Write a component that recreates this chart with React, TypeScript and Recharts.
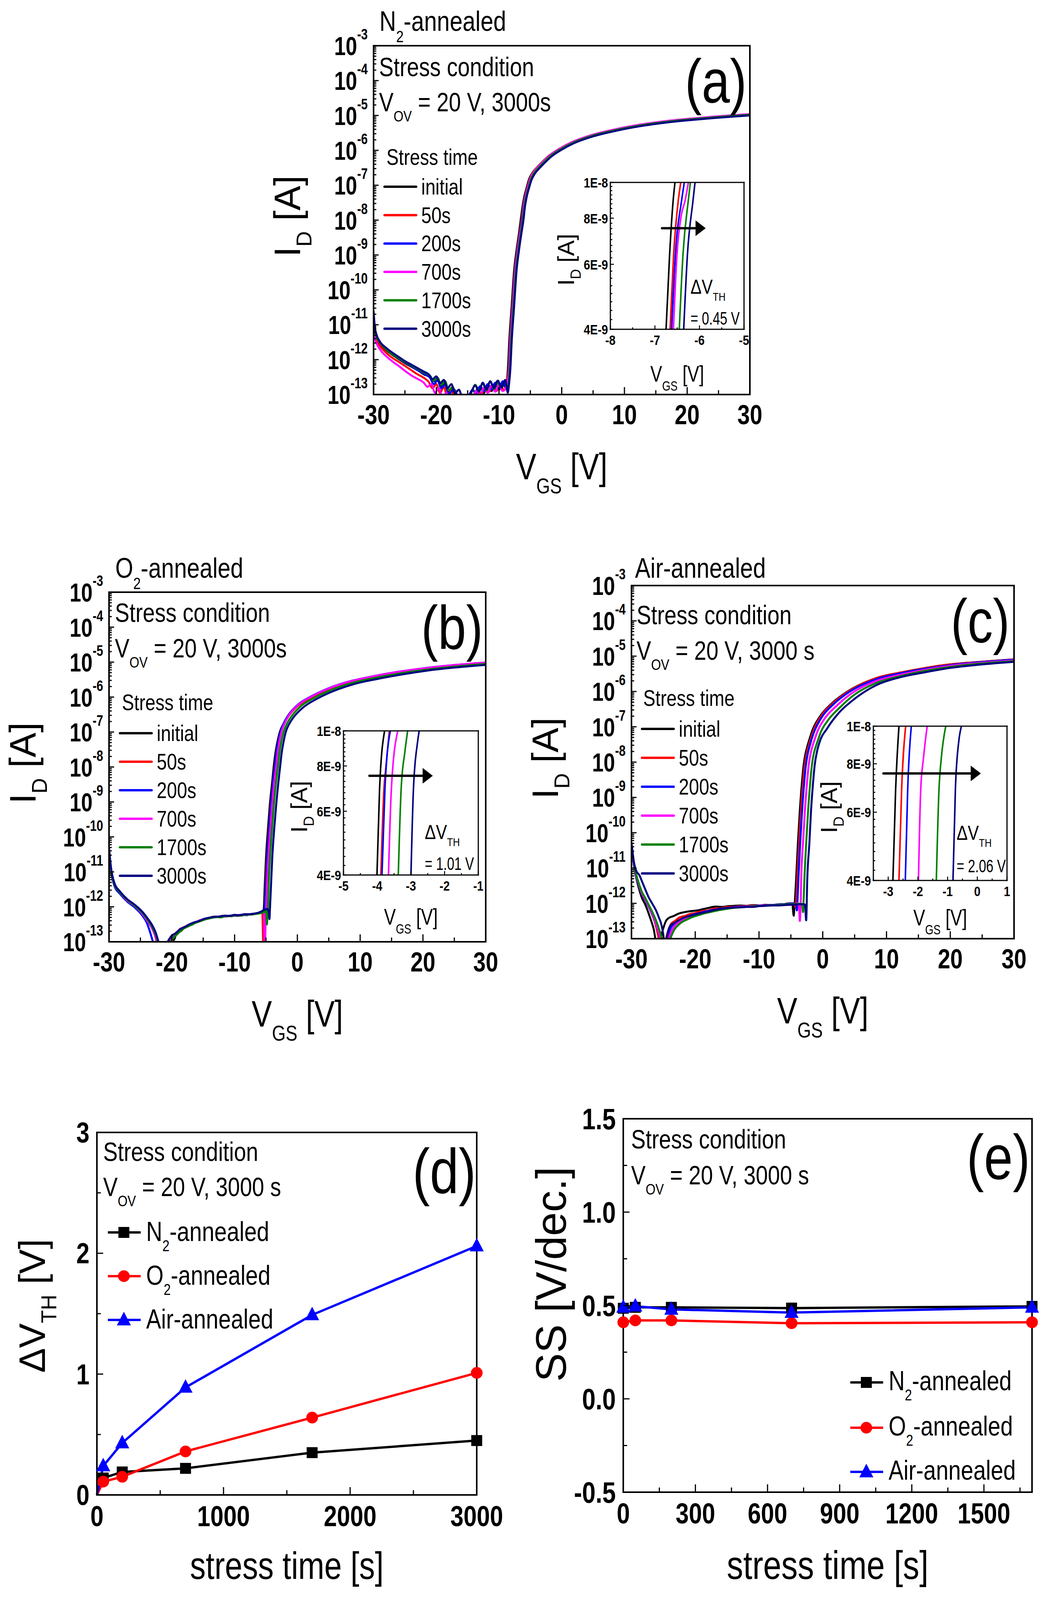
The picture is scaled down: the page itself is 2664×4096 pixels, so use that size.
import React from "react";
import { LineChart, Line, XAxis, YAxis, ReferenceLine } from "recharts";

const W = 2664;
const H = 4096;
const FONT = "'Liberation Sans', Arial, sans-serif";
const NARROW = 0.82;

type Pt = [number, number];
type Box = { l: number; t: number; r: number; b: number };

const COLORS = ["#000000", "#FF0000", "#0000FF", "#FF00FF", "#008000", "#000080"];
const STRESS_LABELS = ["initial", "50s", "200s", "700s", "1700s", "3000s"];

// transfer curves, [V_GS (V), log10 I_D (A)]
const A_INITIAL: Pt[] = [[-30,-11.1],[-29.6,-11.35],[-29,-11.52],[-28,-11.72],[-27,-11.86],[-26,-11.98],[-25,-12.1],[-24,-12.2],[-23,-12.3],[-22,-12.42],[-21,-12.5],[-20.3,-12.62],[-19.8,-12.55],[-19.2,-12.75],[-18.6,-12.66],[-18,-12.92],[-17.4,-12.82],[-16.8,-13.1],[-16,-13.15],[-15,-13.2],[-14.2,-13.05],[-13.6,-12.88],[-13,-12.78],[-12.4,-12.95],[-11.8,-12.72],[-11.2,-12.9],[-10.6,-12.68],[-10,-12.86],[-9.4,-12.64],[-8.9,-12.82],[-8.6,-12.3],[-8.35,-11.4],[-8,-10.5],[-7.6,-9.45],[-7.2,-8.85],[-6.8,-8.35],[-6.55,-8.0],[-6.25,-7.6],[-6.0,-7.35],[-5.6,-7.07],[-5.2,-6.82],[-4.8,-6.68],[-4.0,-6.5],[-3.25,-6.36],[-2,-6.15],[-0.5,-5.97],[1.5,-5.78],[4.6,-5.58],[8.5,-5.41],[12.4,-5.28],[16.4,-5.18],[20.3,-5.11],[24.2,-5.05],[30,-4.98]];
const A_50S: Pt[] = [[-30,-11.15],[-29.6,-11.42],[-29,-11.6],[-28,-11.8],[-27,-11.95],[-26,-12.06],[-25,-12.18],[-24,-12.3],[-23,-12.42],[-22,-12.52],[-21.2,-12.64],[-20.6,-12.82],[-20,-12.7],[-19.4,-12.95],[-18.8,-12.78],[-18.2,-13.1],[-17.6,-12.88],[-17,-13.15],[-16,-13.25],[-15,-13.3],[-14,-13.1],[-13.4,-12.86],[-12.8,-12.98],[-12.2,-12.78],[-11.6,-12.92],[-11,-12.72],[-10.4,-12.9],[-9.8,-12.7],[-9.2,-12.88],[-8.8,-12.72],[-8.5,-12.3],[-8.25,-11.4],[-7.9,-10.5],[-7.5,-9.45],[-7.1,-8.85],[-6.7,-8.35],[-6.42,-8.0],[-6.15,-7.6],[-5.9,-7.35],[-5.5,-7.07],[-5.1,-6.82],[-4.7,-6.67],[-3.9,-6.49],[-3.15,-6.35],[-1.9,-6.14],[-0.4,-5.96],[1.6,-5.77],[4.7,-5.57],[8.6,-5.4],[12.5,-5.27],[16.5,-5.17],[20.4,-5.1],[24.3,-5.04],[30,-4.97]];
const A_200S: Pt[] = [[-30,-11.0],[-29.6,-11.3],[-29,-11.5],[-28,-11.7],[-27,-11.84],[-26,-11.96],[-25,-12.08],[-24,-12.18],[-23,-12.3],[-22,-12.4],[-21,-12.52],[-20.4,-12.7],[-19.8,-12.6],[-19.2,-12.82],[-18.6,-12.72],[-18,-12.98],[-17.2,-12.85],[-16.4,-13.12],[-15.6,-13.2],[-14.8,-13.02],[-14.2,-12.86],[-13.6,-13.0],[-13,-12.76],[-12.4,-12.9],[-11.8,-12.7],[-11.2,-12.86],[-10.6,-12.66],[-10,-12.84],[-9.4,-12.62],[-8.8,-12.8],[-8.45,-12.3],[-8.2,-11.4],[-7.85,-10.5],[-7.45,-9.45],[-7.05,-8.85],[-6.65,-8.35],[-6.34,-8.0],[-6.1,-7.6],[-5.85,-7.35],[-5.45,-7.07],[-5.05,-6.82],[-4.65,-6.68],[-3.85,-6.5],[-3.1,-6.36],[-1.85,-6.15],[-0.35,-5.97],[1.65,-5.78],[4.75,-5.58],[8.65,-5.41],[12.55,-5.28],[16.55,-5.18],[20.45,-5.11],[24.35,-5.05],[30,-4.98]];
const A_700S: Pt[] = [[-30,-11.25],[-29.6,-11.5],[-29,-11.7],[-28,-11.9],[-27,-12.05],[-26,-12.18],[-25,-12.32],[-24,-12.45],[-23,-12.55],[-22,-12.66],[-21.4,-12.78],[-20.8,-12.7],[-20.2,-12.95],[-19.6,-12.82],[-19,-13.1],[-18.4,-12.95],[-17.8,-13.2],[-17,-13.3],[-16,-13.35],[-15,-13.3],[-14.2,-13.1],[-13.6,-12.9],[-13,-13.02],[-12.4,-12.8],[-11.8,-12.95],[-11.2,-12.74],[-10.6,-12.92],[-10,-12.72],[-9.4,-12.9],[-8.8,-12.74],[-8.4,-12.3],[-8.15,-11.4],[-7.8,-10.5],[-7.4,-9.45],[-7.0,-8.85],[-6.6,-8.35],[-6.25,-8.0],[-6.05,-7.6],[-5.8,-7.35],[-5.4,-7.05],[-5.0,-6.8],[-4.6,-6.66],[-3.8,-6.48],[-3.05,-6.34],[-1.8,-6.13],[-0.3,-5.95],[1.7,-5.76],[4.8,-5.56],[8.7,-5.39],[12.6,-5.26],[16.6,-5.16],[20.5,-5.09],[24.4,-5.03],[30,-4.96]];
const A_1700S: Pt[] = [[-30,-11.05],[-29.6,-11.32],[-29,-11.5],[-28,-11.7],[-27,-11.84],[-26,-11.95],[-25,-12.06],[-24,-12.16],[-23,-12.26],[-22,-12.36],[-21,-12.46],[-20.4,-12.6],[-19.8,-12.52],[-19.2,-12.72],[-18.6,-12.62],[-18,-12.88],[-17.4,-12.78],[-16.8,-13.05],[-16,-13.12],[-15.2,-13.15],[-14.4,-12.95],[-13.8,-12.72],[-13.2,-12.9],[-12.6,-12.68],[-12,-12.88],[-11.4,-12.62],[-10.8,-12.84],[-10.2,-12.66],[-9.6,-12.8],[-9,-12.6],[-8.6,-12.85],[-8.3,-12.3],[-8.05,-11.4],[-7.7,-10.5],[-7.3,-9.45],[-6.9,-8.85],[-6.5,-8.35],[-6.2,-8.0],[-5.95,-7.6],[-5.7,-7.35],[-5.3,-7.07],[-4.9,-6.82],[-4.5,-6.68],[-3.7,-6.5],[-2.95,-6.36],[-1.7,-6.15],[-0.2,-5.97],[1.8,-5.78],[4.9,-5.58],[8.8,-5.41],[12.7,-5.28],[16.7,-5.18],[20.6,-5.11],[24.5,-5.05],[30,-4.98]];
const A_3000S: Pt[] = [[-30,-10.6],[-29.8,-11.05],[-29.5,-11.3],[-29,-11.48],[-28,-11.66],[-27,-11.8],[-26,-11.92],[-25,-12.04],[-24,-12.14],[-23,-12.24],[-22,-12.34],[-21.2,-12.42],[-20.6,-12.56],[-20,-12.48],[-19.4,-12.68],[-18.8,-12.58],[-18.2,-12.82],[-17.6,-12.7],[-17,-12.96],[-16.4,-12.86],[-15.8,-13.1],[-15,-13.12],[-14.4,-12.92],[-13.8,-12.74],[-13.2,-12.92],[-12.6,-12.66],[-12,-12.86],[-11.4,-12.62],[-10.8,-12.82],[-10.2,-12.6],[-9.6,-12.8],[-9,-12.58],[-8.6,-12.95],[-8.4,-12.7],[-8.2,-12.3],[-7.95,-11.4],[-7.6,-10.5],[-7.2,-9.45],[-6.8,-8.85],[-6.4,-8.35],[-6.1,-8.0],[-5.85,-7.6],[-5.6,-7.35],[-5.2,-7.07],[-4.8,-6.84],[-4.4,-6.7],[-3.6,-6.52],[-2.85,-6.38],[-1.6,-6.17],[-0.1,-5.99],[1.9,-5.8],[5.0,-5.6],[8.9,-5.43],[12.8,-5.3],[16.8,-5.2],[20.7,-5.13],[24.6,-5.07],[30,-5.0]];

const B_INITIAL: Pt[] = [[-30,-10.38],[-29.7,-10.9],[-29.1,-11.36],[-28.3,-11.56],[-27.1,-11.79],[-25.9,-11.95],[-24.7,-12.15],[-23.9,-12.34],[-23.3,-12.52],[-22.9,-12.68],[-22.4,-12.95],[-22,-13.2],[-21.3,-13.3],[-20.7,-13.1],[-20.2,-12.88],[-19.7,-12.95],[-19.2,-12.74],[-18.6,-12.7],[-18,-12.6],[-17.4,-12.56],[-16.8,-12.48],[-16,-12.44],[-15.2,-12.38],[-14.4,-12.33],[-13.6,-12.3],[-12.8,-12.29],[-12,-12.26],[-11.2,-12.27],[-10.4,-12.25],[-9.6,-12.26],[-8.8,-12.23],[-8,-12.22],[-7.2,-12.21],[-6.4,-12.19],[-5.8,-12.17],[-5.5,-12.12],[-5.35,-12.05],[-5.2,-11.4],[-5.0,-10.6],[-4.7,-9.8],[-4.4,-9.1],[-4.0,-8.4],[-3.78,-8.0],[-3.5,-7.6],[-3.2,-7.3],[-2.8,-7.0],[-2.2,-6.76],[-1.6,-6.57],[0,-6.25],[2,-6.02],[3.9,-5.85],[7.9,-5.59],[11.9,-5.43],[15.9,-5.3],[19.9,-5.2],[23.9,-5.12],[30,-5.03]];
const B_50S: Pt[] = [[-30,-10.45],[-29.7,-10.95],[-29.1,-11.4],[-28.3,-11.6],[-27.1,-11.82],[-25.9,-11.98],[-24.7,-12.18],[-23.9,-12.38],[-23.3,-12.56],[-22.8,-12.75],[-22.3,-13.05],[-21.6,-13.25],[-21,-13.15],[-20.4,-12.92],[-19.8,-12.82],[-19.2,-12.72],[-18.5,-12.62],[-17.8,-12.56],[-17,-12.52],[-16.2,-12.45],[-15.4,-12.38],[-14.6,-12.34],[-13.8,-12.3],[-13,-12.28],[-12.2,-12.3],[-11.4,-12.26],[-10.6,-12.27],[-9.8,-12.24],[-9,-12.25],[-8.2,-12.22],[-7.4,-12.22],[-6.6,-12.2],[-5.9,-12.16],[-5.6,-12.12],[-5.4,-13.3],[-5.25,-12.3],[-5.15,-11.9],[-5.05,-11.3],[-4.85,-10.6],[-4.55,-9.8],[-4.25,-9.1],[-3.88,-8.4],[-3.64,-8.0],[-3.37,-7.6],[-3.08,-7.3],[-2.68,-7.0],[-2.1,-6.76],[-1.5,-6.57],[0.1,-6.25],[2.1,-6.02],[4.0,-5.85],[8.0,-5.59],[12,-5.43],[16,-5.3],[20,-5.2],[24,-5.12],[30,-5.03]];
const B_200S: Pt[] = [[-30,-10.4],[-29.7,-10.95],[-29.1,-11.42],[-28.3,-11.62],[-27.1,-11.85],[-25.9,-12.02],[-24.7,-12.25],[-24,-12.45],[-23.5,-12.7],[-23,-13.0],[-22.4,-13.3],[-21.6,-13.35],[-21,-13.2],[-20.4,-12.95],[-19.8,-12.85],[-19.2,-12.76],[-18.5,-12.64],[-17.8,-12.58],[-17,-12.5],[-16.2,-12.44],[-15.4,-12.4],[-14.6,-12.35],[-13.8,-12.31],[-13,-12.3],[-12.2,-12.27],[-11.4,-12.28],[-10.6,-12.25],[-9.8,-12.26],[-9,-12.23],[-8.2,-12.24],[-7.4,-12.21],[-6.6,-12.2],[-5.9,-12.17],[-5.4,-12.12],[-5.2,-12.0],[-5.02,-11.4],[-4.82,-10.6],[-4.52,-9.8],[-4.22,-9.1],[-3.86,-8.4],[-3.61,-8.0],[-3.36,-7.6],[-3.08,-7.3],[-2.7,-7.0],[-2.14,-6.74],[-1.56,-6.55],[0,-6.23],[2,-6.0],[3.9,-5.83],[7.9,-5.57],[11.9,-5.41],[15.9,-5.28],[19.9,-5.18],[23.9,-5.1],[30,-5.01]];
const B_700S: Pt[] = [[-30,-10.42],[-29.7,-10.92],[-29.1,-11.38],[-28.3,-11.58],[-27.1,-11.82],[-25.9,-11.98],[-24.7,-12.2],[-23.9,-12.4],[-23.2,-12.6],[-22.6,-12.85],[-22,-13.15],[-21.2,-13.3],[-20.5,-13.05],[-19.9,-12.82],[-19.3,-12.78],[-18.6,-12.62],[-17.9,-12.6],[-17.1,-12.5],[-16.3,-12.46],[-15.5,-12.38],[-14.7,-12.36],[-13.9,-12.31],[-13.1,-12.3],[-12.3,-12.27],[-11.5,-12.28],[-10.7,-12.25],[-9.9,-12.26],[-9.1,-12.23],[-8.3,-12.23],[-7.5,-12.21],[-6.7,-12.2],[-6,-12.17],[-5.6,-12.14],[-5.35,-12.1],[-5.2,-13.4],[-5.05,-12.4],[-4.95,-11.9],[-4.83,-11.3],[-4.63,-10.6],[-4.33,-9.8],[-4.03,-9.1],[-3.67,-8.4],[-3.39,-8.0],[-3.15,-7.6],[-2.9,-7.3],[-2.55,-7.0],[-2.0,-6.74],[-1.45,-6.55],[0.1,-6.23],[2.1,-6.0],[4.0,-5.83],[8.0,-5.57],[12,-5.41],[16,-5.28],[20,-5.18],[24,-5.1],[30,-5.01]];
const B_1700S: Pt[] = [[-30,-10.4],[-29.7,-10.92],[-29.1,-11.38],[-28.3,-11.58],[-27.1,-11.8],[-25.9,-11.97],[-24.7,-12.17],[-23.9,-12.36],[-23.2,-12.55],[-22.6,-12.78],[-22,-13.1],[-21.2,-13.28],[-20.4,-13.05],[-19.8,-12.9],[-19.1,-12.78],[-18.4,-12.66],[-17.7,-12.58],[-16.9,-12.52],[-16.1,-12.45],[-15.3,-12.4],[-14.5,-12.35],[-13.7,-12.32],[-12.9,-12.29],[-12.1,-12.3],[-11.3,-12.26],[-10.5,-12.27],[-9.7,-12.24],[-8.9,-12.25],[-8.1,-12.22],[-7.3,-12.22],[-6.5,-12.2],[-5.8,-12.18],[-5.3,-12.15],[-5.0,-12.1],[-4.85,-12.5],[-4.75,-12.2],[-4.65,-11.9],[-4.55,-11.3],[-4.35,-10.6],[-4.05,-9.8],[-3.75,-9.1],[-3.37,-8.4],[-3.1,-8.0],[-2.85,-7.6],[-2.58,-7.3],[-2.2,-7.0],[-1.65,-6.76],[-1.05,-6.58],[0.5,-6.27],[2.5,-6.04],[4.4,-5.87],[8.4,-5.61],[12.4,-5.45],[16.4,-5.32],[20.4,-5.22],[24.4,-5.14],[30,-5.05]];
const B_3000S: Pt[] = [[-30,-10.3],[-29.7,-10.85],[-29.1,-11.34],[-28.3,-11.55],[-27.1,-11.78],[-25.9,-11.94],[-24.7,-12.14],[-23.9,-12.32],[-23.2,-12.5],[-22.6,-12.72],[-22,-13.05],[-21.3,-13.2],[-20.6,-12.98],[-20,-12.82],[-19.4,-12.76],[-18.7,-12.64],[-18,-12.58],[-17.2,-12.5],[-16.4,-12.44],[-15.6,-12.4],[-14.8,-12.34],[-14,-12.31],[-13.2,-12.28],[-12.4,-12.28],[-11.6,-12.25],[-10.8,-12.26],[-10,-12.23],[-9.2,-12.24],[-8.4,-12.21],[-7.6,-12.21],[-6.8,-12.19],[-6.1,-12.16],[-5.6,-12.12],[-5.2,-12.08],[-4.8,-12.06],[-4.55,-12.15],[-4.45,-12.35],[-4.35,-12.0],[-4.2,-11.4],[-4.0,-10.6],[-3.7,-9.8],[-3.38,-9.1],[-3.0,-8.4],[-2.75,-8.0],[-2.5,-7.6],[-2.22,-7.3],[-1.85,-7.0],[-1.3,-6.77],[-0.7,-6.6],[0.9,-6.3],[2.9,-6.07],[4.8,-5.9],[8.8,-5.64],[12.8,-5.48],[16.8,-5.35],[20.8,-5.24],[24.8,-5.16],[30,-5.08]];

const C_INITIAL: Pt[] = [[-30,-10.35],[-29.6,-10.95],[-29.2,-11.32],[-28.8,-11.6],[-28.4,-11.83],[-27.8,-12.05],[-27.3,-12.29],[-26.9,-12.5],[-26.5,-12.74],[-26.2,-13.05],[-25.8,-13.2],[-25.4,-12.95],[-25,-12.7],[-24.6,-12.5],[-24.2,-12.42],[-23.4,-12.36],[-22.6,-12.29],[-21.7,-12.25],[-20.7,-12.22],[-19.7,-12.2],[-18.7,-12.16],[-17.7,-12.12],[-16.8,-12.09],[-15.8,-12.1],[-14.85,-12.08],[-13.9,-12.07],[-12.9,-12.06],[-12,-12.07],[-11,-12.05],[-10,-12.06],[-9,-12.04],[-8,-12.05],[-7.1,-12.03],[-6,-12.02],[-5.1,-12.0],[-4.75,-12.05],[-4.56,-12.35],[-4.4,-12.0],[-4.18,-11.32],[-3.9,-10.3],[-3.6,-9.38],[-3.3,-8.65],[-3.0,-8.08],[-2.7,-7.75],[-2.43,-7.56],[-2.0,-7.3],[-1.65,-7.11],[-0.49,-6.72],[1.46,-6.33],[3.8,-6.01],[8.4,-5.62],[12.3,-5.46],[16.2,-5.33],[20.1,-5.23],[24,-5.17],[30,-5.09]];
const C_50S: Pt[] = [[-30,-10.3],[-29.6,-10.9],[-29.2,-11.25],[-28.8,-11.5],[-28.4,-11.7],[-27.8,-11.9],[-27.3,-12.08],[-26.8,-12.3],[-26.3,-12.55],[-25.9,-12.85],[-25.5,-13.2],[-25,-13.3],[-24.6,-13.0],[-24.2,-12.75],[-23.8,-12.58],[-23.2,-12.5],[-22.5,-12.4],[-21.7,-12.36],[-20.8,-12.3],[-19.9,-12.27],[-19,-12.22],[-18,-12.2],[-17,-12.15],[-16,-12.14],[-15,-12.1],[-14,-12.1],[-13,-12.08],[-12,-12.08],[-11,-12.06],[-10,-12.07],[-9,-12.05],[-8,-12.05],[-7,-12.04],[-6,-12.03],[-5,-12.01],[-4.5,-12.0],[-4.3,-12.1],[-4.2,-12.0],[-4.0,-11.32],[-3.72,-10.3],[-3.42,-9.38],[-3.12,-8.65],[-2.82,-8.08],[-2.52,-7.75],[-2.25,-7.56],[-1.82,-7.3],[-1.47,-7.11],[-0.35,-6.72],[1.6,-6.33],[3.9,-6.01],[8.4,-5.62],[12.3,-5.46],[16.2,-5.33],[20.1,-5.23],[24,-5.17],[30,-5.09]];
const C_200S: Pt[] = [[-30,-10.32],[-29.6,-10.92],[-29.2,-11.28],[-28.8,-11.52],[-28.4,-11.72],[-27.8,-11.92],[-27.3,-12.1],[-26.8,-12.3],[-26.3,-12.52],[-25.8,-12.8],[-25.3,-13.1],[-24.8,-13.3],[-24.3,-13.0],[-23.9,-12.72],[-23.4,-12.6],[-22.8,-12.52],[-22.1,-12.44],[-21.3,-12.38],[-20.4,-12.32],[-19.5,-12.28],[-18.6,-12.24],[-17.6,-12.2],[-16.6,-12.17],[-15.6,-12.14],[-14.6,-12.12],[-13.6,-12.1],[-12.6,-12.09],[-11.6,-12.08],[-10.6,-12.07],[-9.6,-12.06],[-8.6,-12.05],[-7.6,-12.04],[-6.6,-12.03],[-5.6,-12.02],[-4.6,-12.0],[-4.2,-12.02],[-4.05,-12.2],[-3.95,-11.9],[-3.82,-11.32],[-3.54,-10.3],[-3.24,-9.38],[-2.94,-8.65],[-2.64,-8.08],[-2.34,-7.75],[-2.07,-7.56],[-1.66,-7.3],[-1.3,-7.12],[-0.2,-6.74],[1.75,-6.35],[4.0,-6.03],[8.4,-5.65],[12.3,-5.48],[16.2,-5.35],[20.1,-5.25],[24,-5.18],[30,-5.1]];
const C_700S: Pt[] = [[-30,-10.3],[-29.6,-10.9],[-29.2,-11.26],[-28.8,-11.5],[-28.4,-11.7],[-27.8,-11.9],[-27.3,-12.08],[-26.8,-12.28],[-26.3,-12.5],[-25.8,-12.78],[-25.3,-13.05],[-24.8,-13.25],[-24.3,-13.1],[-23.9,-12.85],[-23.4,-12.68],[-22.8,-12.56],[-22.1,-12.48],[-21.3,-12.4],[-20.4,-12.34],[-19.5,-12.3],[-18.6,-12.26],[-17.6,-12.22],[-16.6,-12.18],[-15.6,-12.15],[-14.6,-12.13],[-13.6,-12.11],[-12.6,-12.1],[-11.6,-12.08],[-10.6,-12.08],[-9.6,-12.06],[-8.6,-12.06],[-7.6,-12.05],[-6.6,-12.04],[-5.6,-12.03],[-4.6,-12.02],[-3.9,-12.0],[-3.7,-12.15],[-3.6,-12.5],[-3.5,-12.2],[-3.45,-11.9],[-3.38,-11.32],[-3.1,-10.3],[-2.8,-9.38],[-2.5,-8.65],[-2.2,-8.08],[-1.9,-7.75],[-1.63,-7.56],[-1.2,-7.32],[-0.85,-7.14],[0.25,-6.78],[2.2,-6.4],[4.3,-6.08],[8.4,-5.7],[12.3,-5.52],[16.2,-5.38],[20.1,-5.27],[24,-5.2],[30,-5.12]];
const C_1700S: Pt[] = [[-30,-10.28],[-29.6,-10.88],[-29.2,-11.22],[-28.8,-11.46],[-28.4,-11.66],[-27.8,-11.86],[-27.3,-12.04],[-26.8,-12.22],[-26.3,-12.42],[-25.8,-12.66],[-25.3,-12.95],[-24.8,-13.2],[-24.3,-13.25],[-23.8,-12.95],[-23.3,-12.75],[-22.7,-12.62],[-22,-12.52],[-21.2,-12.45],[-20.3,-12.38],[-19.4,-12.33],[-18.5,-12.28],[-17.5,-12.24],[-16.5,-12.2],[-15.5,-12.17],[-14.5,-12.14],[-13.5,-12.12],[-12.5,-12.11],[-11.5,-12.09],[-10.5,-12.08],[-9.5,-12.07],[-8.5,-12.06],[-7.5,-12.05],[-6.5,-12.04],[-5.5,-12.03],[-4.5,-12.02],[-3.5,-12.01],[-3.2,-12.05],[-3.1,-12.25],[-3.0,-11.9],[-2.88,-11.32],[-2.6,-10.3],[-2.3,-9.38],[-2.0,-8.65],[-1.7,-8.08],[-1.4,-7.75],[-1.13,-7.58],[-0.7,-7.35],[-0.35,-7.17],[0.8,-6.82],[2.7,-6.45],[4.6,-6.14],[8.4,-5.76],[12.3,-5.56],[16.2,-5.41],[20.1,-5.3],[24,-5.22],[30,-5.14]];
const C_3000S: Pt[] = [[-30,-10.28],[-29.6,-10.85],[-29.2,-11.1],[-28.8,-11.19],[-28.3,-11.4],[-27.8,-11.62],[-27.3,-11.83],[-26.7,-12.02],[-26.1,-12.22],[-25.7,-12.4],[-25.3,-12.61],[-25,-12.9],[-24.8,-13.2],[-24.5,-13.0],[-24.2,-12.75],[-23.8,-12.61],[-23.2,-12.55],[-22.6,-12.48],[-21.7,-12.4],[-20.7,-12.35],[-19.7,-12.3],[-18.7,-12.26],[-17.7,-12.22],[-16.8,-12.18],[-15.8,-12.15],[-14.85,-12.13],[-13.9,-12.12],[-12.9,-12.11],[-12,-12.1],[-11,-12.1],[-10,-12.08],[-9,-12.07],[-8,-12.06],[-7.1,-12.06],[-6,-12.05],[-5,-12.04],[-4,-12.03],[-3.2,-12.02],[-2.8,-12.03],[-2.6,-12.48],[-2.43,-11.32],[-2.1,-10.3],[-1.84,-9.38],[-1.55,-8.65],[-1.26,-8.08],[-0.9,-7.7],[-0.49,-7.43],[0.68,-7.05],[2.6,-6.59],[4.56,-6.27],[8.4,-5.82],[12.3,-5.59],[16.2,-5.45],[20.1,-5.33],[24,-5.25],[30,-5.16]];

// inset close-ups near 4E-9 .. 1E-8 A, [V_GS, log10 I_D]
const AI_CURVES: Pt[][] = [
  [[-6.75,-8.398],[-6.67,-8.195],[-6.59,-8.048],[-6.55,-8.0]],
  [[-6.66,-8.398],[-6.58,-8.195],[-6.475,-8.048],[-6.42,-8.0]],
  [[-6.625,-8.398],[-6.54,-8.195],[-6.4,-8.048],[-6.34,-8.0]],
  [[-6.585,-8.398],[-6.505,-8.195],[-6.41,-8.09],[-6.32,-8.048],[-6.25,-8.0]],
  [[-6.453,-8.398],[-6.37,-8.195],[-6.25,-8.048],[-6.204,-8.0]],
  [[-6.354,-8.398],[-6.27,-8.195],[-6.144,-8.048],[-6.1,-8.0]],
];
const BI_CURVES: Pt[][] = [
  [[-4.007,-8.398],[-3.93,-8.162],[-3.78,-8.0]],
  [[-3.89,-8.398],[-3.8,-8.162],[-3.74,-8.098],[-3.64,-8.0]],
  [[-3.858,-8.398],[-3.77,-8.162],[-3.61,-8.0]],
  [[-3.665,-8.398],[-3.58,-8.162],[-3.39,-8.0]],
  [[-3.374,-8.398],[-3.29,-8.162],[-3.18,-8.059],[-3.096,-8.0]],
  [[-2.998,-8.398],[-2.925,-8.162],[-2.805,-8.033],[-2.754,-8.0]],
];
const CI_CURVES: Pt[][] = [
  [[-2.842,-8.398],[-2.75,-8.163],[-2.638,-8.0]],
  [[-2.638,-8.398],[-2.548,-8.163],[-2.412,-8.0]],
  [[-2.425,-8.398],[-2.344,-8.163],[-2.222,-8.0]],
  [[-1.982,-8.398],[-1.905,-8.163],[-1.814,-8.083],[-1.688,-8.0]],
  [[-1.38,-8.398],[-1.29,-8.163],[-1.213,-8.083],[-1.063,-8.0]],
  [[-0.819,-8.398],[-0.738,-8.163],[-0.624,-8.039],[-0.534,-8.0]],
];

// threshold shift and subthreshold swing vs stress time
const STRESS_TIME = [0, 50, 200, 700, 1700, 3000];
const DVTH_N2 = [0, 0.14, 0.19, 0.22, 0.35, 0.45];
const DVTH_O2 = [0, 0.11, 0.15, 0.36, 0.64, 1.01];
const DVTH_AIR = [0, 0.24, 0.43, 0.89, 1.49, 2.06];
const SS_TIME = [0, 50, 200, 700, 1700];
const SS_N2 = [0.485, 0.49, 0.49, 0.486, 0.495];
const SS_O2 = [0.41, 0.42, 0.42, 0.405, 0.41];
const SS_AIR = [0.49, 0.496, 0.479, 0.462, 0.49];

// axis ticks
const VGS_MAJOR = [-30, -20, -10, 0, 10, 20, 30];
const VGS_MINOR = [-25, -15, -5, 5, 15, 25];
const DECADES = [-13, -12, -11, -10, -9, -8, -7, -6, -5, -4, -3];
const LOG_MINOR_FACTORS = [2, 3, 4, 5, 6, 7, 8, 9];
const INSET_Y_MAJOR = [4e-9, 6e-9, 8e-9, 1e-8];
const INSET_Y_LABELS = ["4E-9", "6E-9", "8E-9", "1E-8"];
const INSET_Y_STEP = 0.25e-9;
const D_X_TICKS = [0, 500, 1000, 1500, 2000, 2500, 3000];
const D_Y_TICKS = [0, 0.5, 1, 1.5, 2, 2.5, 3];
const E_X_TICKS = [0, 150, 300, 450, 600, 750, 900, 1050, 1200, 1350, 1500, 1650];
const E_Y_TICKS = [-0.5, -0.25, 0, 0.25, 0.5, 0.75, 1, 1.25, 1.5];

const LOG_TICKS = DECADES.flatMap((d) => (d < -3 ? [d, ...LOG_MINOR_FACTORS.map((f) => d + Math.log10(f))] : [d]));
const INSET_Y_TICKS: number[] = [];
for (let c = INSET_Y_MAJOR[0]; c <= 1e-8 + 1e-12; c += INSET_Y_STEP) INSET_Y_TICKS.push(Math.log10(c));
const INSET_Y_DOMAIN = [Math.log10(INSET_Y_MAJOR[0]), Math.log10(1e-8)];

const BOX_A: Box = { l: 956, t: 117, r: 1919, b: 1010 };
const BOX_B: Box = { l: 279, t: 1516, r: 1243, b: 2411 };
const BOX_C: Box = { l: 1616, t: 1499, r: 2595, b: 2403 };
const BOX_D: Box = { l: 248, t: 2899, r: 1220, b: 3827 };
const BOX_E: Box = { l: 1595, t: 2864, r: 2641, b: 3820 };
const IN_A: Box = { l: 1562, t: 467, r: 1904, b: 843 };
const IN_B: Box = { l: 879, t: 1871, r: 1224, b: 2240 };
const IN_C: Box = { l: 2235, t: 1859, r: 2577, b: 2254 };

// every axis is 1px thick in layout terms, so the plot area lands exactly on the box
const marginOf = (b: Box) => ({ left: b.l - 1, top: b.t - 1, right: W - b.r - 1, bottom: H - b.b - 1 });
const near = (a: number, b: number) => Math.abs(a - b) < 1e-6;
const AXIS = { stroke: "#000", strokeWidth: 4, strokeLinecap: "square" as const };
const THIN_AXIS = { stroke: "#000", strokeWidth: 3, strokeLinecap: "square" as const };

// condensed text: Liberation Sans squeezed horizontally
function NText(props: { x: number; y: number; size: number; anchor?: string; weight?: number; rotate?: boolean; sx?: number; children: React.ReactNode }) {
  const { x, y, size, anchor = "start", weight = 400, rotate = false, sx = NARROW, children } = props;
  const tf = `translate(${x} ${y})${rotate ? " rotate(-90)" : ""} scale(${sx} 1)`;
  return (
    <text transform={tf} x={0} y={0} fontSize={size} textAnchor={anchor} fontWeight={weight} fontFamily={FONT} fill="#000">
      {children}
    </text>
  );
}

type Side = "left" | "right" | "bottom";
function makeTick(
  side: Side,
  isMajor: (v: number) => boolean,
  majorLen: number,
  minorLen: number,
  sw: number,
  label?: (v: number, x: number, y: number) => React.ReactNode
) {
  return (p: any) => {
    const v: number = p.payload.value;
    const x: number = p.x;
    const y: number = p.y;
    const maj = isMajor(v);
    const len = maj ? majorLen : minorLen;
    const x2 = side === "left" ? x + len : side === "right" ? x - len : x;
    const y2 = side === "bottom" ? y - len : y;
    return (
      <g>
        <line x1={x} y1={y} x2={x2} y2={y2} stroke="#000" strokeWidth={sw} />
        {maj && label ? label(v, x, y) : null}
      </g>
    );
  };
}

const isDecade = (v: number) => near(v, Math.round(v));
const vgsTick = makeTick("bottom", (v) => VGS_MAJOR.some((m) => near(m, v)), 19, 11, 3, (v, x, y) => (
  <NText x={x} y={y + 76} size={70} weight={700} anchor="middle">{String(v)}</NText>
));
const logTickLeft = makeTick("left", isDecade, 13, 7, 3, (v, x, y) => (
  <NText x={x - 15} y={y + 24} size={66} weight={700} anchor="end" sx={0.8}>
    10<tspan fontSize={38} dy={-40}>{String(Math.round(v))}</tspan>
  </NText>
));
const logTickRight = makeTick("right", isDecade, 13, 7, 3);

const insetXTick = makeTick("bottom", isDecade, 10, 5, 2.5, (v, x, y) => (
  <NText x={x} y={y + 40} size={36} weight={700} anchor="middle">{String(v)}</NText>
));
const insetYMajor = (v: number) => INSET_Y_MAJOR.some((m) => near(Math.log10(m), v));
const insetYLeft = makeTick("left", insetYMajor, 9, 5, 2.5, (v, x, y) => (
  <NText x={x - 6} y={y + 13} size={36} weight={700} anchor="end">
    {INSET_Y_LABELS[INSET_Y_MAJOR.findIndex((m) => near(Math.log10(m), v))]}
  </NText>
));
const insetYRight = makeTick("right", insetYMajor, 9, 5, 2.5);

const toXY = (pts: Pt[]) => pts.map(([v, i]) => ({ v, i }));

function TransferChart({ box, curves }: { box: Box; curves: Pt[][] }) {
  return (
    <div style={{ position: "absolute", left: 0, top: 0 }}>
      <LineChart width={W} height={H} margin={marginOf(box)}>
        <XAxis xAxisId="b" dataKey="v" type="number" domain={[-30, 30]} ticks={[...VGS_MAJOR, ...VGS_MINOR]} interval={0} height={1} tickSize={0} tickMargin={0} tickLine={false} axisLine={AXIS} tick={vgsTick} allowDataOverflow />
        <XAxis xAxisId="t" orientation="top" type="number" domain={[-30, 30]} height={1} tick={false} tickLine={false} axisLine={AXIS} />
        <YAxis yAxisId="l" type="number" domain={[-13, -3]} ticks={LOG_TICKS} interval={0} width={1} tickSize={0} tickMargin={0} tickLine={false} axisLine={AXIS} tick={logTickLeft} allowDataOverflow />
        <YAxis yAxisId="r" orientation="right" type="number" domain={[-13, -3]} ticks={LOG_TICKS} interval={0} width={1} tickSize={0} tickMargin={0} tickLine={false} axisLine={AXIS} tick={logTickRight} />
        {curves.map((c, k) => (
          <Line key={k} xAxisId="b" yAxisId="l" data={toXY(c)} dataKey="i" type="monotone" stroke={COLORS[k]} strokeWidth={5} dot={false} activeDot={false} isAnimationActive={false} />
        ))}
      </LineChart>
    </div>
  );
}

const arrowShape = (p: any) => {
  const head = 26;
  const half = 20;
  return (
    <g>
      <line x1={p.x1} y1={p.y1} x2={p.x2 - head + 2} y2={p.y2} stroke="#000" strokeWidth={6} strokeLinecap="round" />
      <polygon points={`${p.x2 - head},${p.y2 - half} ${p.x2},${p.y2} ${p.x2 - head},${p.y2 + half}`} fill="#000" />
    </g>
  );
};

function InsetChart({ box, curves, xDomain, xTicks, arrow }: { box: Box; curves: Pt[][]; xDomain: [number, number]; xTicks: number[]; arrow: [number, number, number] }) {
  return (
    <div style={{ position: "absolute", left: 0, top: 0 }}>
      <LineChart width={W} height={H} margin={marginOf(box)}>
        <XAxis xAxisId="b" dataKey="v" type="number" domain={xDomain} ticks={xTicks} interval={0} height={1} tickSize={0} tickMargin={0} tickLine={false} axisLine={THIN_AXIS} tick={insetXTick} allowDataOverflow />
        <XAxis xAxisId="t" orientation="top" type="number" domain={xDomain} height={1} tick={false} tickLine={false} axisLine={THIN_AXIS} />
        <YAxis yAxisId="l" type="number" domain={INSET_Y_DOMAIN} ticks={INSET_Y_TICKS} interval={0} width={1} tickSize={0} tickMargin={0} tickLine={false} axisLine={THIN_AXIS} tick={insetYLeft} allowDataOverflow />
        <YAxis yAxisId="r" orientation="right" type="number" domain={INSET_Y_DOMAIN} ticks={INSET_Y_TICKS} interval={0} width={1} tickSize={0} tickMargin={0} tickLine={false} axisLine={THIN_AXIS} tick={insetYRight} />
        {curves.map((c, k) => (
          <Line key={k} xAxisId="b" yAxisId="l" data={toXY(c)} dataKey="i" type="monotone" stroke={COLORS[k]} strokeWidth={4} dot={false} activeDot={false} isAnimationActive={false} />
        ))}
        <ReferenceLine xAxisId="b" yAxisId="l" segment={[{ x: arrow[0], y: arrow[2] }, { x: arrow[1], y: arrow[2] }]} shape={arrowShape} ifOverflow="visible" />
      </LineChart>
    </div>
  );
}

const square = (fill: string, s: number, skipFirst: boolean) => (p: any) =>
  skipFirst && p.index === 0 ? <g key={`s${p.index}`} /> : <rect key={`s${p.index}`} x={p.cx - s / 2} y={p.cy - s / 2} width={s} height={s} fill={fill} />;
const circle = (fill: string, r: number, skipFirst: boolean) => (p: any) =>
  skipFirst && p.index === 0 ? <g key={`c${p.index}`} /> : <circle key={`c${p.index}`} cx={p.cx} cy={p.cy} r={r} fill={fill} />;
const triangle = (fill: string, w: number, skipFirst: boolean) => (p: any) =>
  skipFirst && p.index === 0 ? (
    <g key={`t${p.index}`} />
  ) : (
    <polygon key={`t${p.index}`} points={`${p.cx},${p.cy - w * 0.58} ${p.cx - w / 2},${p.cy + w * 0.38} ${p.cx + w / 2},${p.cy + w * 0.38}`} fill={fill} />
  );

const D_DATA = STRESS_TIME.map((t, k) => ({ t, n2: DVTH_N2[k], o2: DVTH_O2[k], air: DVTH_AIR[k] }));
const E_DATA = SS_TIME.map((t, k) => ({ t, n2: SS_N2[k], o2: SS_O2[k], air: SS_AIR[k] }));

const timeLabelX = (v: number, x: number, y: number) => <NText x={x} y={y + 80} size={74} weight={700} anchor="middle">{String(v)}</NText>;
const dXTick = makeTick("bottom", (v) => v % 1000 === 0, 20, 12, 3, timeLabelX);
const dYLeft = makeTick("left", isDecade, 16, 10, 3, (v, x, y) => <NText x={x - 19} y={y + 26} size={74} weight={700} anchor="end">{String(v)}</NText>);
const dYRight = makeTick("right", isDecade, 16, 10, 3);
const halfMajor = (v: number) => near(v * 2, Math.round(v * 2));
const eXTick = makeTick("bottom", (v) => v % 300 === 0, 20, 12, 3, timeLabelX);
const eYLeft = makeTick("left", halfMajor, 16, 10, 3, (v, x, y) => <NText x={x - 19} y={y + 27} size={76} weight={700} anchor="end">{v.toFixed(1)}</NText>);
const eYRight = makeTick("right", halfMajor, 16, 10, 3);

function TimeChart({ box, data, xDomain, xTicks, yDomain, yTicks, xTick, yLeft, yRight, skipFirst }: any) {
  return (
    <div style={{ position: "absolute", left: 0, top: 0 }}>
      <LineChart width={W} height={H} margin={marginOf(box)} data={data}>
        <XAxis xAxisId="b" dataKey="t" type="number" domain={xDomain} ticks={xTicks} interval={0} height={1} tickSize={0} tickMargin={0} tickLine={false} axisLine={AXIS} tick={xTick} />
        <XAxis xAxisId="t" orientation="top" type="number" domain={xDomain} height={1} tick={false} tickLine={false} axisLine={AXIS} />
        <YAxis yAxisId="l" type="number" domain={yDomain} ticks={yTicks} interval={0} width={1} tickSize={0} tickMargin={0} tickLine={false} axisLine={AXIS} tick={yLeft} />
        <YAxis yAxisId="r" orientation="right" type="number" domain={yDomain} ticks={yTicks} interval={0} width={1} tickSize={0} tickMargin={0} tickLine={false} axisLine={AXIS} tick={yRight} />
        <Line xAxisId="b" yAxisId="l" dataKey="n2" type="linear" stroke="#000000" strokeWidth={6} dot={square("#000000", 28, skipFirst)} activeDot={false} isAnimationActive={false} />
        <Line xAxisId="b" yAxisId="l" dataKey="o2" type="linear" stroke="#FF0000" strokeWidth={6} dot={circle("#FF0000", 15, skipFirst)} activeDot={false} isAnimationActive={false} />
        <Line xAxisId="b" yAxisId="l" dataKey="air" type="linear" stroke="#0000FF" strokeWidth={6} dot={triangle("#0000FF", 36, skipFirst)} activeDot={false} isAnimationActive={false} />
      </LineChart>
    </div>
  );
}

// ---------- annotations ----------
type PanelNote = {
  box: Box;
  title: React.ReactNode;
  titleX: number;
  titleY: number;
  scX: number;
  scY: number;
  ovY: number;
  ovText: string;
  stX: number;
  stY: number;
  legX: number;
  legY: number;
  legDy: number;
  tag: string;
  tagRight: number;
  tagY: number;
};

const gasName = (gas: string, sub: number, dy: number) => (
  <>
    {gas}<tspan fontSize={sub} dy={dy}>2</tspan>
    <tspan dy={-dy}>-annealed</tspan>
  </>
);

const NOTES: PanelNote[] = [
  { box: BOX_A, title: gasName("N", 42, 29), titleX: 971, titleY: 79, scX: 970, scY: 195, ovY: 285, ovText: "= 20 V, 3000s", stX: 989, stY: 422, legX: 984, legY: 478, legDy: 72.7, tag: "(a)", tagRight: 1911, tagY: 262 },
  { box: BOX_B, title: gasName("O", 42, 29), titleX: 295, titleY: 1479, scX: 294, scY: 1592, ovY: 1683, ovText: "= 20 V, 3000s", stX: 312, stY: 1818, legX: 307, legY: 1877, legDy: 73, tag: "(b)", tagRight: 1236, tagY: 1661 },
  { box: BOX_C, title: <>Air-annealed</>, titleX: 1625, titleY: 1479, scX: 1629, scY: 1598, ovY: 1689, ovText: "= 20 V, 3000 s", stX: 1646, stY: 1807, legX: 1643, legY: 1866, legDy: 74, tag: "(c)", tagRight: 2584, tagY: 1644 },
];

function VovLine({ x, y, text, size }: { x: number; y: number; text: string; size: number }) {
  return (
    <NText x={x} y={y} size={size}>
      V<tspan fontSize={size * 0.58} dy={size * 0.38}>OV</tspan>
      <tspan dy={-size * 0.38}>{" " + text}</tspan>
    </NText>
  );
}

function TransferNotes({ n }: { n: PanelNote }) {
  const b = n.box;
  const cx = (b.l + b.r) / 2;
  const cy = (b.t + b.b) / 2;
  const yx = b.l - 188;
  return (
    <g>
      <NText x={n.titleX} y={n.titleY} size={72}>{n.title}</NText>
      <NText x={n.scX} y={n.scY} size={68}>Stress condition</NText>
      <VovLine x={n.scX} y={n.ovY} text={n.ovText} size={68} />
      <NText x={n.stX} y={n.stY} size={57}>Stress time</NText>
      {STRESS_LABELS.map((s, k) => (
        <g key={s}>
          <line x1={n.legX} x2={n.legX + 81} y1={n.legY + k * n.legDy} y2={n.legY + k * n.legDy} stroke={COLORS[k]} strokeWidth={6} strokeLinecap="round" />
          <NText x={n.legX + 94} y={n.legY + k * n.legDy + 20} size={57}>{s}</NText>
        </g>
      ))}
      <NText x={n.tagRight} y={n.tagY} size={158} anchor="end">{n.tag}</NText>
      <NText x={cx} y={b.b + 217} size={95} anchor="middle">
        V<tspan fontSize={55} dy={36}>GS</tspan>
        <tspan dy={-36}> [V]</tspan>
      </NText>
      <NText x={yx} y={cy - 10} size={95} anchor="middle" rotate sx={1}>
        I<tspan fontSize={55} dy={29}>D</tspan>
        <tspan dy={-29}> [A]</tspan>
      </NText>
    </g>
  );
}

function InsetNotes({ b, dv, tx, ty1, ty2, xt }: { b: Box; dv: string; tx: number; ty1: number; ty2: number; xt: number }) {
  const cx = (b.l + b.r) / 2;
  const cy = (b.t + b.b) / 2 + 10;
  const yx = b.l - 93;
  return (
    <g>
      <NText x={b.l + tx} y={b.t + ty1} size={52}>
        {"\u0394"}V<tspan fontSize={30} dy={18}>TH</tspan>
      </NText>
      <text x={b.l + tx} y={b.t + ty2} fontSize={46} fontFamily={FONT} textLength={126} lengthAdjust="spacingAndGlyphs">
        {"= " + dv + " V"}
      </text>
      <NText x={cx} y={b.b + xt} size={58} anchor="middle" sx={0.78}>
        V<tspan fontSize={35} dy={23}>GS</tspan>
        <tspan dy={-23}> [V]</tspan>
      </NText>
      <NText x={yx} y={cy} size={60} anchor="middle" rotate sx={1}>
        I<tspan fontSize={36} dy={17}>D</tspan>
        <tspan dy={-17}> [A]</tspan>
      </NText>
    </g>
  );
}

const LEGEND_NAMES = [gasName("N", 40, 26), gasName("O", 40, 26), <>Air-annealed</>];

function TimeLegend({ x0, ys, textDy }: { x0: number; ys: number[]; textDy: number }) {
  const mk = [
    <rect key="m0" x={x0 + 41 - 14} y={ys[0] - 14} width={28} height={28} fill="#000000" />,
    <circle key="m1" cx={x0 + 41} cy={ys[1]} r={15} fill="#FF0000" />,
    <polygon key="m2" points={`${x0 + 41},${ys[2] - 21} ${x0 + 23},${ys[2] + 14} ${x0 + 59},${ys[2] + 14}`} fill="#0000FF" />,
  ];
  const cols = ["#000000", "#FF0000", "#0000FF"];
  return (
    <g>
      {ys.map((y, k) => (
        <g key={k}>
          <line x1={x0} x2={x0 + 84} y1={y} y2={y} stroke={cols[k]} strokeWidth={6} />
          {mk[k]}
          <NText x={x0 + 98} y={y + textDy} size={70}>{LEGEND_NAMES[k]}</NText>
        </g>
      ))}
    </g>
  );
}

function Annotations() {
  return (
    <svg width={W} height={H} style={{ position: "absolute", left: 0, top: 0, pointerEvents: "none" }} fontFamily={FONT} fill="#000">
      {NOTES.map((n) => (
        <TransferNotes key={n.tag} n={n} />
      ))}
      <InsetNotes b={IN_A} dv="0.45" tx={205} ty1={285} ty2={364} xt={134} />
      <InsetNotes b={IN_B} dv="1.01" tx={208} ty1={277} ty2={356} xt={127} />
      <InsetNotes b={IN_C} dv="2.06" tx={213} ty1={291} ty2={374} xt={115} />

      {/* panel d */}
      <NText x={264} y={2972} size={68}>Stress condition</NText>
      <VovLine x={264} y={3062} text="= 20 V, 3000 s" size={68} />
      <NText x={1218} y={3054} size={162} anchor="end">(d)</NText>
      <TimeLegend x0={276} ys={[3155, 3267, 3379]} textDy={22} />
      <NText x={(BOX_D.l + BOX_D.r) / 2} y={4042} size={98} anchor="middle">stress time [s]</NText>
      <NText x={115} y={3343} size={95} anchor="middle" rotate sx={1}>
        {"\u0394"}V<tspan fontSize={55} dy={29}>TH</tspan>
        <tspan dy={-29}> [V]</tspan>
      </NText>

      {/* panel e */}
      <NText x={1615} y={2940} size={68}>Stress condition</NText>
      <VovLine x={1615} y={3032} text="= 20 V, 3000 s" size={68} />
      <NText x={2636} y={3018} size={162} anchor="end">(e)</NText>
      <TimeLegend x0={2176} ys={[3539, 3655, 3768]} textDy={20} />
      <NText x={(BOX_E.l + BOX_E.r) / 2} y={4042} size={102} anchor="middle">stress time [s]</NText>
      <NText x={1448} y={3262} size={110} anchor="middle" rotate sx={1}>SS [V/dec.]</NText>
    </svg>
  );
}

export default function App() {
  return (
    <div style={{ position: "absolute", left: 0, top: 0, width: W, height: H, background: "#fff", overflow: "hidden" }}>
      <TransferChart box={BOX_A} curves={[A_INITIAL, A_50S, A_200S, A_700S, A_1700S, A_3000S]} />
      <TransferChart box={BOX_B} curves={[B_INITIAL, B_50S, B_200S, B_700S, B_1700S, B_3000S]} />
      <TransferChart box={BOX_C} curves={[C_INITIAL, C_50S, C_200S, C_700S, C_1700S, C_3000S]} />
      <InsetChart box={IN_A} curves={AI_CURVES} xDomain={[-8, -5]} xTicks={[-8, -7.5, -7, -6.5, -6, -5.5, -5]} arrow={[-6.84, -5.86, -8.124]} />
      <InsetChart box={IN_B} curves={BI_CURVES} xDomain={[-5, -1]} xTicks={[-5, -4.5, -4, -3.5, -3, -2.5, -2, -1.5, -1]} arrow={[-4.23, -2.35, -8.124]} />
      <InsetChart box={IN_C} curves={CI_CURVES} xDomain={[-3.5, 1]} xTicks={[-3.5, -3, -2.5, -2, -1.5, -1, -0.5, 0, 0.5, 1]} arrow={[-3.16, 0.12, -8.122]} />
      <TimeChart box={BOX_D} data={D_DATA} xDomain={[0, 3000]} xTicks={D_X_TICKS} yDomain={[0, 3]} yTicks={D_Y_TICKS} xTick={dXTick} yLeft={dYLeft} yRight={dYRight} skipFirst={true} />
      <TimeChart box={BOX_E} data={E_DATA} xDomain={[0, 1700]} xTicks={E_X_TICKS} yDomain={[-0.5, 1.5]} yTicks={E_Y_TICKS} xTick={eXTick} yLeft={eYLeft} yRight={eYRight} skipFirst={false} />
      <Annotations />
    </div>
  );
}
